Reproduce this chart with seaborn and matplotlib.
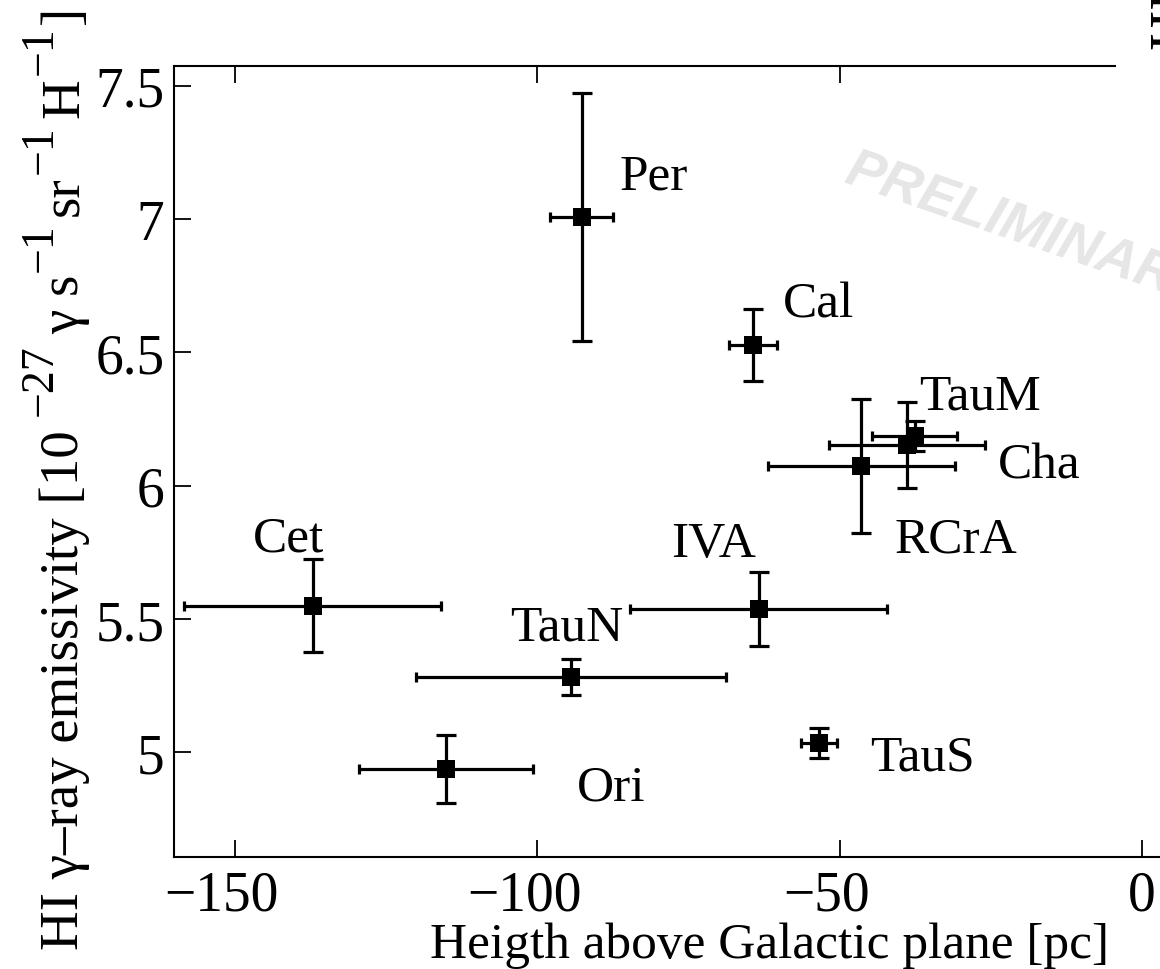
import numpy as np
import pandas as pd
import matplotlib
matplotlib.use("Agg")
import matplotlib.pyplot as plt
import matplotlib.transforms as mtransforms
import seaborn as sns

# Cloud names, height above the plane [pc] and HI emissivity [1e-27 ph/s/sr/H]
clouds = ["Per", "Cal", "TauM", "Cha", "RCrA", "Cet", "IVA", "TauN", "Ori", "TauS"]
height = [-92.6, -64.3, -37.6, -38.8, -46.4, -137.1, -63.4, -94.4, -115.1, -53.4]
height_err = [5.2, 3.9, 7.0, 12.9, 15.5, 21.2, 21.2, 25.6, 14.4, 2.9]
emissivity = [7.009, 6.528, 6.187, 6.153, 6.075, 5.551, 5.538, 5.284, 4.938, 5.035]
emissivity_err = [0.465, 0.135, 0.057, 0.163, 0.252, 0.174, 0.138, 0.067, 0.129, 0.056]

# Where each cloud name is written (left edge, baseline) in data units
label_x = [-86.3, -59.4, -36.8, -23.9, -40.9, -146.9, -77.8, -104.5, -93.5, -44.9]
label_y = [7.116, 6.633, 6.288, 6.033, 5.753, 5.756, 5.737, 5.425, 4.825, 4.938]

xticks = [-150, -100, -50, 0]
xtick_labels = ["\u2212150", "\u2212100", "\u221250", "0"]
yticks = [5, 5.5, 6, 6.5, 7, 7.5]
ytick_labels = ["5", "5.5", "6", "6.5", "7", "7.5"]

df = pd.DataFrame({"cloud": clouds, "z": height, "dz": height_err,
                   "eps": emissivity, "deps": emissivity_err})

sns.set_theme(style="ticks")
plt.rcParams["font.family"] = ["Liberation Serif", "DejaVu Serif"]
plt.rcParams["mathtext.fontset"] = "stix"
plt.rcParams["axes.unicode_minus"] = True
plt.rcParams["axes.labelcolor"] = "black"
plt.rcParams["text.color"] = "black"

W, H = 1160, 970
fig = plt.figure(figsize=(W / 100, H / 100), dpi=100)
fig.patch.set_facecolor("white")

ax_left, ax_right = 174, 1366
ax_top, ax_bottom = 67.3, 858.3
ax = fig.add_axes([ax_left / W, (H - ax_bottom) / H,
                   (ax_right - ax_left) / W, (ax_bottom - ax_top) / H])
ax.set_facecolor("white")

lw = 2.3
# vertical (emissivity) error bars with wide caps
ax.errorbar(df["z"], df["eps"], yerr=df["deps"], fmt="none", ecolor="black",
            elinewidth=lw, capsize=7.2, capthick=lw, zorder=3)
# horizontal (height) error bars with short caps
ax.errorbar(df["z"], df["eps"], xerr=df["dz"], fmt="none", ecolor="black",
            elinewidth=lw, capsize=3.8, capthick=lw, zorder=3)
sns.scatterplot(data=df, x="z", y="eps", marker="s", s=150, color="black",
                edgecolor="black", linewidth=0, ax=ax, zorder=4, legend=False)

for name, lx, ly in zip(clouds, label_x, label_y):
    ax.text(lx, ly, name, fontsize=37, ha="left", va="baseline", color="black")

ax.set_xlim(-160, 37)
ax.set_ylim(4.607, 7.573)
ax.set_xticks(xticks)
ax.set_xticklabels(xtick_labels)
ax.set_yticks(yticks)
ax.set_yticklabels(ytick_labels)
ax.tick_params(axis="both", direction="in", length=12, width=1.3,
               labelsize=40, colors="black", top=True, right=False)
ax.tick_params(axis="x", pad=9)
ax.tick_params(axis="y", pad=7)
for t, v in zip(ax.xaxis.get_major_ticks(), xticks):
    if v == 0:
        t.tick2line.set_visible(False)
# negative labels sit slightly left of their ticks
shift = mtransforms.ScaledTranslation(-13 / 100, 0, fig.dpi_scale_trans)
for lab, v in zip(ax.get_xticklabels(), xticks):
    if v < 0:
        lab.set_transform(lab.get_transform() + shift)

for side in ["left", "bottom", "top"]:
    ax.spines[side].set_linewidth(1.5)
    ax.spines[side].set_color("black")
ax.spines["right"].set_visible(False)
ax.spines["top"].set_bounds(-160, -4.5)

ax.set_xlabel("Heigth above Galactic plane [pc]", fontsize=37, labelpad=0,
              color="black")
ax.set_ylabel("")

# y-axis title, laid out piece by piece so the exponents stay large
renderer = fig.canvas.get_renderer()
ident = mtransforms.IdentityTransform()
pieces = [("HI \u03b3\u2013ray emissivity [10", 39.5, 0, 14),
          ("\u221227", 33, 26, 10),
          ("\u03b3 s", 39.5, 0, 3),
          ("\u22121", 33, 26, 7),
          ("sr", 39.5, 0, 3),
          ("\u22121", 33, 26, 7),
          ("H", 39.5, 0, 3),
          ("\u22121", 33, 26, 1),
          ("]", 39.5, 0, 0)]
base_x = 78
cursor = H - 950
for txt, fs, rise, gap in pieces:
    t = fig.text(base_x - rise, cursor, txt, fontsize=fs, rotation=90,
                 rotation_mode="anchor", ha="left", va="baseline",
                 transform=ident, color="black")
    ext = t.get_window_extent(renderer)
    cursor += ext.height + gap

# watermark
fig.text(842 / W, (H - 182) / H, "PRELIMINARY", fontsize=40, fontweight="bold",
         fontstyle="italic", family="Liberation Sans", color="#e6e6e6",
         rotation=-19, rotation_mode="anchor", ha="left", va="baseline", zorder=0)

# neighbouring panel's axis title, cut by the figure edge
fig.text(1190, H - 50, "HI \u03b3\u2013ray emissivity", fontsize=40, rotation=90,
         rotation_mode="anchor", ha="left", va="baseline", transform=ident,
         color="black")

fig.savefig("out.png", dpi=100, facecolor="white")
